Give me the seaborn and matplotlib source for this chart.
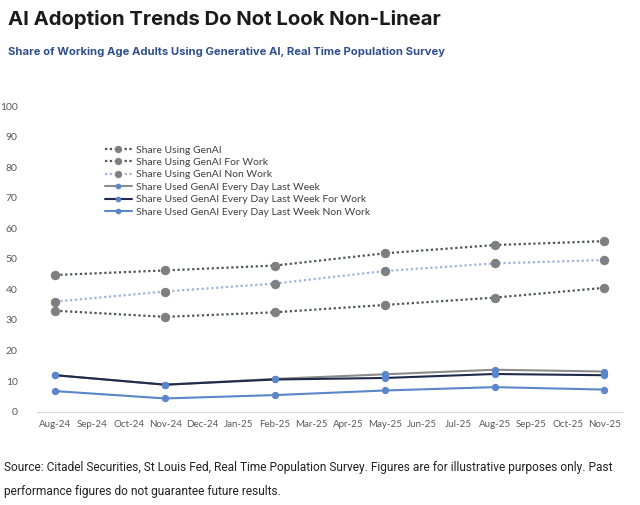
import pandas as pd
import matplotlib.pyplot as plt
import seaborn as sns

# month labels on the x axis and the survey months that carry data
months = ['Aug-24', 'Sep-24', 'Oct-24', 'Nov-24', 'Dec-24', 'Jan-25', 'Feb-25', 'Mar-25',
          'Apr-25', 'May-25', 'Jun-25', 'Jul-25', 'Aug-25', 'Sep-25', 'Oct-25', 'Nov-25']
survey_months = ['Aug-24', 'Nov-24', 'Feb-25', 'May-25', 'Aug-25', 'Nov-25']

# values (%)
using_genai = [44.7, 46.2, 47.8, 51.8, 54.5, 55.8]
using_genai_work = [33.0, 31.0, 32.5, 34.9, 37.3, 40.5]
using_genai_nonwork = [36.0, 39.3, 41.9, 46.0, 48.5, 49.6]
every_day = [11.9, 8.8, 10.7, 12.2, 13.7, 13.1]
every_day_work = [11.9, 8.8, 10.5, 11.0, 12.3, 11.9]
every_day_nonwork = [6.7, 4.3, 5.4, 6.9, 8.0, 7.2]

series_names = ['Share Using GenAI', 'Share Using GenAI For Work', 'Share Using GenAI Non Work',
                'Share Used GenAI Every Day Last Week', 'Share Used GenAI Every Day Last Week For Work',
                'Share Used GenAI Every Day Last Week Non Work']
series_values = [using_genai, using_genai_work, using_genai_nonwork,
                 every_day, every_day_work, every_day_nonwork]

# line style per series: (line colour, linestyle, marker colour, marker size)
styles = [
    ('#4f535c', ':', '#7f7f7f', 6),
    ('#4f535c', ':', '#7f7f7f', 6),
    ('#9db4dc', ':', '#7f7f7f', 6),
    ('#8c8c8c', '-', '#5b86c9', 4.5),
    ('#1f2a4d', '-', '#5b86c9', 4.5),
    ('#5b86c9', '-', '#5b86c9', 4.5),
]

rows = []
for name, vals in zip(series_names, series_values):
    for m, v in zip(survey_months, vals):
        rows.append({'series': name, 'x': months.index(m), 'value': v})
df = pd.DataFrame(rows)

sns.set_style('white')
plt.rcParams['font.family'] = ['Lato', 'DejaVu Sans']

fig = plt.figure(figsize=(6.4, 5.05), dpi=100)
ax = fig.add_axes([0.058, 0.185, 0.915, 0.605])

for name, (lc, ls, mc, ms) in zip(series_names, styles):
    sns.lineplot(data=df[df['series'] == name], x='x', y='value', ax=ax,
                 color=lc, linestyle=(0, (1, 1.2)) if ls == ':' else ls,
                 linewidth=1.6 if ls == ':' else 1.5,
                 marker='o', markersize=ms, markerfacecolor=mc, markeredgecolor=mc,
                 label=name, errorbar=None)

ax.set_xlim(-0.5, 15.5)
ax.set_ylim(0, 100)
ax.set_yticks(range(0, 101, 10))
ax.set_xticks(range(len(months)))
ax.set_xticklabels(months)
ax.set_xticks([i + 0.5 for i in range(-1, 16)], minor=True)
ax.tick_params(axis='x', which='major', length=0, labelsize=7, colors='#595959', pad=6)
ax.tick_params(axis='x', which='minor', length=3, color='#d9d9d9', width=0.8)
ax.tick_params(axis='y', length=0, labelsize=7.5, colors='#595959', pad=14)
ax.set_xlabel('')
ax.set_ylabel('')
for side in ['top', 'right', 'left']:
    ax.spines[side].set_visible(False)
ax.spines['bottom'].set_color('#d9d9d9')
ax.grid(False)

leg = ax.legend(loc='upper left', bbox_to_anchor=(0.108, 0.885), frameon=False,
                fontsize=7.5, handlelength=2.6, labelspacing=0.3, handletextpad=0.4,
                borderaxespad=0, markerscale=0.75)
for t in leg.get_texts():
    t.set_color('#404040')

fig.text(0.012, 0.962, 'AI Adoption Trends Do Not Look Non-Linear', fontsize=14.6,
         fontweight='bold', color='#1a1a1a', family='Inter', va='center')
fig.text(0.012, 0.897, 'Share of Working Age Adults Using Generative AI, Real Time Population Survey',
         fontsize=8.1, fontweight='bold', color='#2f4f8f', family='Inter', va='center')
fig.text(0.006, 0.075, 'Source: Citadel Securities, St Louis Fed, Real Time Population Survey. '
         'Figures are for illustrative purposes only. Past', fontsize=8.6, color='#222222',
         family='Roboto', va='center')
fig.text(0.006, 0.026, 'performance figures do not guarantee future results.', fontsize=8.6,
         color='#222222', family='Roboto', va='center')

plt.savefig('out.png', dpi=100)
